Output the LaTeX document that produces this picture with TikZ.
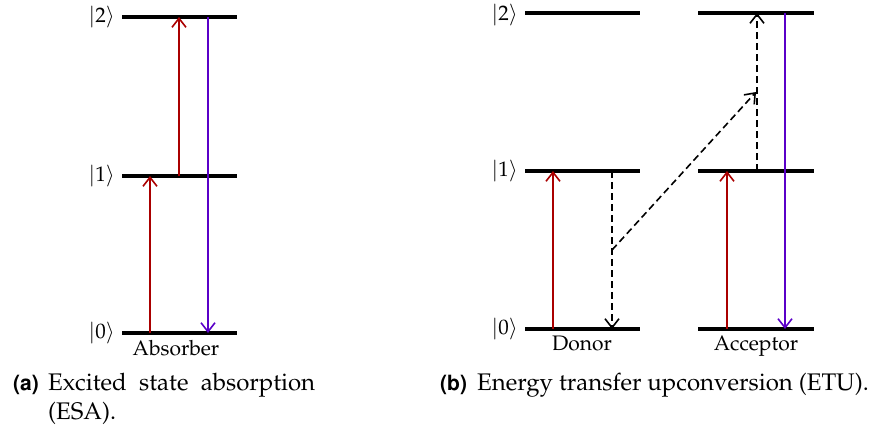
\documentclass[tikz,border=0pt]{standalone}
\usepackage[T1]{fontenc}
\usepackage{mathpazo}
\usetikzlibrary{arrows.meta}
\definecolor{exred}{RGB}{170,0,0}
\definecolor{empurple}{RGB}{90,0,200}
\tikzset{
  lvl/.style={line width=4pt},
  ket/.style={anchor=east,font=\fontsize{21}{24}\selectfont,inner sep=0pt},
  atom/.style={anchor=north,font=\fontsize{21}{24}\selectfont,inner sep=0pt},
  tip/.style={-{Straight Barb[length=9pt,width=14pt,line width=1.6pt]}},
  exc/.style={tip,exred,line width=1.6pt},
  emi/.style={tip,empurple,line width=1.6pt},
  trans/.style={tip,black,line width=1.6pt,dash pattern=on 7pt off 4pt},
  captag/.style={anchor=base west,font=\fontsize{21}{25}\fontfamily{phv}\fontseries{b}\selectfont,inner sep=0pt},
  captxt/.style={anchor=base west,font=\fontsize{24}{28}\selectfont,inner sep=0pt}
}
\begin{document}
\begin{tikzpicture}[x=1pt,y=-1pt]
\useasboundingbox (0,0) rectangle (871,432);
% ---------- (a) ----------
\coordinate (a2l) at (122,17);  \coordinate (a2r) at (237,17);
\coordinate (a1l) at (122,176); \coordinate (a1r) at (237,176);
\coordinate (a0l) at (122,333); \coordinate (a0r) at (237,333);
\draw[lvl] (a2l) -- (a2r);
\draw[lvl] (a1l) -- (a1r);
\draw[lvl] (a0l) -- (a0r);
\node[ket] (ka2) at (115,17) {$|2\rangle$};
\node[ket] (ka1) at (115,176) {$|1\rangle$};
\node[ket] (ka0) at (115,333) {$|0\rangle$};
\node[atom] (absorber) at (176,340) {Absorber};
\coordinate (ea0) at (150,333); \coordinate (ea1) at (150,176);
\coordinate (eb1) at (179,176); \coordinate (eb2) at (179,17);
\coordinate (pa2) at (208,17);  \coordinate (pa0) at (208,333);
\draw[exc] (ea0) -- (ea1);
\draw[exc] (eb1) -- (eb2);
\draw[emi] (pa2) -- (pa0);
\node[captag] (tagA) at (13,390) {(a)};
\node[captxt] (capA1) at (48,390) {\makebox[267pt][s]{Excited state absorption}};
\node[captxt] (capA2) at (48,419) {(ESA).};
% ---------- (b) ----------
\coordinate (d2l) at (525,13);  \coordinate (d2r) at (640,13);
\coordinate (d1l) at (525,171); \coordinate (d1r) at (640,171);
\coordinate (d0l) at (525,329); \coordinate (d0r) at (640,329);
\coordinate (c2l) at (698,13);  \coordinate (c2r) at (814,13);
\coordinate (c1l) at (698,171); \coordinate (c1r) at (814,171);
\coordinate (c0l) at (698,329); \coordinate (c0r) at (814,329);
\foreach \p in {d2,d1,d0,c2,c1,c0} \draw[lvl] (\p l) -- (\p r);
\node[ket] (kb2) at (518,15) {$|2\rangle$};
\node[ket] (kb1) at (518,171) {$|1\rangle$};
\node[ket] (kb0) at (518,329) {$|0\rangle$};
\node[atom] (donor) at (582,336) {Donor};
\node[atom] (acceptor) at (756,336) {Acceptor};
\coordinate (dx0) at (553,329); \coordinate (dx1) at (553,171);
\coordinate (dt1) at (612,171); \coordinate (dt0) at (612,329);
\coordinate (dm) at (612,250);  \coordinate (cm) at (756,92);
\coordinate (ct1) at (757,171); \coordinate (ct2) at (757,13);
\coordinate (cx0) at (727,329); \coordinate (cx1) at (727,171);
\coordinate (cp2) at (785,13);  \coordinate (cp0) at (785,329);
\draw[exc] (dx0) -- (dx1);
\draw[trans] (dt1) -- (dt0);
\draw[trans] (dm) -- (cm);
\draw[trans] (ct1) -- (ct2);
\draw[exc] (cx0) -- (cx1);
\draw[emi] (cp2) -- (cp0);
\node[captag] (tagB) at (440,390) {(b)};
\node[captxt] (capB) at (477,390) {Energy transfer upconversion (ETU).};
\end{tikzpicture}
\end{document}
